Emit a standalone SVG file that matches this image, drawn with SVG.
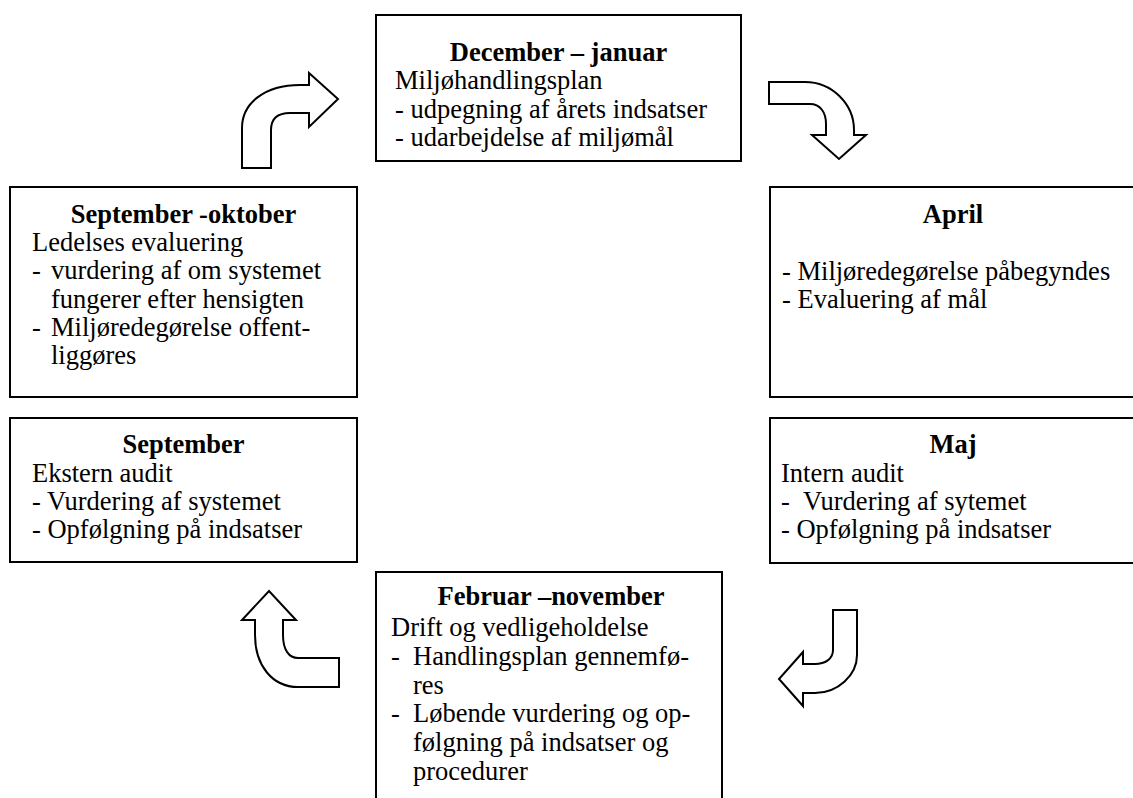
<svg xmlns="http://www.w3.org/2000/svg" width="1133" height="798" viewBox="0 0 1133 798">
<style>
.box{fill:#fff;stroke:#000;stroke-width:2}
.arr{fill:#fff;stroke:#000;stroke-width:2;stroke-linejoin:miter}
text{font-family:"Liberation Serif","Times New Roman",serif;font-size:26.5px;fill:#000}
.t{font-weight:bold;text-anchor:middle}
</style>
<rect width="1133" height="798" fill="#fff"/>
<g id="node-dec-jan">
<rect class="box" x="376" y="15" width="365" height="146"/>
<text class="t" x="558.5" y="61">December – januar</text>
<text x="395" y="89">Miljøhandlingsplan</text>
<text x="395" y="118">- udpegning af årets indsatser</text>
<text x="395" y="146">- udarbejdelse af miljømål</text>
</g>
<g id="node-sep-okt">
<rect class="box" x="10" y="187" width="347" height="210"/>
<text class="t" x="183.5" y="223">September -oktober</text>
<text x="32" y="251">Ledelses evaluering</text>
<text x="32" y="279">-</text><text x="51" y="279">vurdering af om systemet</text>
<text x="51" y="308">fungerer efter hensigten</text>
<text x="32" y="336">-</text><text x="51" y="336">Miljøredegørelse offent-</text>
<text x="51" y="364">liggøres</text>
</g>
<g id="node-april">
<rect class="box" x="770" y="187" width="366" height="210"/>
<text class="t" x="953" y="223">April</text>
<text x="782" y="280">- Miljøredegørelse påbegyndes</text>
<text x="782" y="308">- Evaluering af mål</text>
</g>
<g id="node-maj">
<rect class="box" x="770" y="418" width="366" height="145"/>
<text class="t" x="953" y="453">Maj</text>
<text x="781" y="482">Intern audit</text>
<text x="781" y="510">-</text><text x="803" y="510">Vurdering af sytemet</text>
<text x="781" y="538">- Opfølgning på indsatser</text>
</g>
<g id="node-september">
<rect class="box" x="10" y="418" width="347" height="144"/>
<text class="t" x="183.5" y="453">September</text>
<text x="32" y="482">Ekstern audit</text>
<text x="32" y="510">- Vurdering af systemet</text>
<text x="32" y="538">- Opfølgning på indsatser</text>
</g>
<g id="node-feb-nov">
<rect class="box" x="376" y="572" width="346" height="240"/>
<text class="t" x="551" y="605">Februar –november</text>
<text x="391" y="636">Drift og vedligeholdelse</text>
<text x="391" y="665">-</text><text x="413" y="665">Handlingsplan gennemfø-</text>
<text x="413" y="694">res</text>
<text x="391" y="722">-</text><text x="413" y="722">Løbende vurdering og op-</text>
<text x="413" y="751">følgning på indsatser og</text>
<text x="413" y="780">procedurer</text>
</g>
<g id="connectors">
<path class="arr" d="M242,168 V128 C242,103 265,85 300,85 H309 V73 L338,99 L309,127 V113 H290 C278,113 271,118 271,130 V168 Z"/>
<path class="arr" d="M769,82 H805 C832,82 854,104 854,130 V135 H866 L839,159 L812,135 H826 V124 C826,112 820,104 810,104 H769 Z"/>
<path class="arr" d="M833,610 V650 C833,659 825,664 815,664 H803 V652 L779,679 L803,706 V693 H815 C838,693 857,675 857,655 V610 Z"/>
<path class="arr" d="M339,658 H298 C289,658 283,650 283,635 V620 H296 L269,591 L242,620 H255 V635 C255,665 272,687 298,687 H339 Z"/>
</g>
</svg>
